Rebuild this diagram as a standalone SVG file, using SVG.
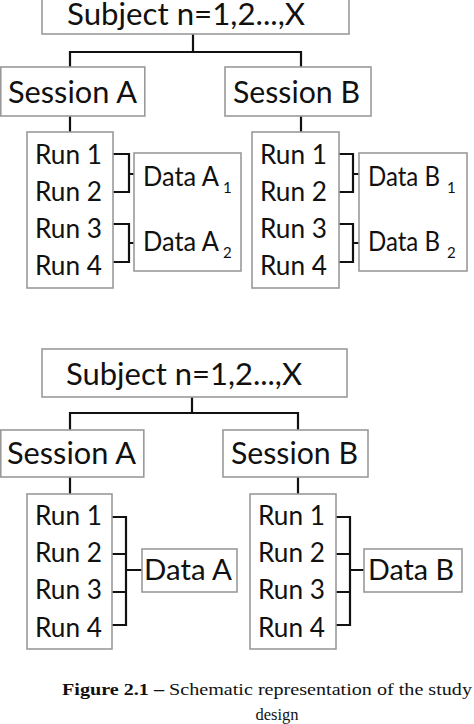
<svg xmlns="http://www.w3.org/2000/svg" width="474" height="724" viewBox="0 0 474 724">
<style>
.box{fill:#fff;stroke:#9a9a9a;stroke-width:1.6}
.t{font-family:Lato,"Open Sans","Liberation Sans",sans-serif;fill:#111}
.ln{fill:none;stroke:#111;stroke-width:2.2;stroke-linejoin:miter}
.cap{font-family:"Liberation Serif","Times New Roman",serif;font-size:16.5px;fill:#111}
</style>
<rect width="474" height="724" fill="#fff"/>
<g id="connectors">
<path class="ln" d="M193 34V52M70 67V52H301V67M70 116V132M301 116V132"/>
<path class="ln" d="M108 154H129V192H108M129 174H140M108 224H129V262H108M129 243H140"/>
<path class="ln" d="M333 154H353V192H333M353 174H364M333 224H353V262H333M353 243H364"/>
<path class="ln" d="M192 397V413M70 430V413H298V430M70 477V494M298 477V494"/>
<path class="ln" d="M107 517H126V625H107M107 554H126M107 592H126M126 570H142"/>
<path class="ln" d="M329 517H350V625H329M329 554H350M329 592H350M350 570H364"/>
</g>
<g id="subject1"><rect class="box" x="42" y="-12" width="307" height="46"/><text class="t" x="67" y="25" font-size="30" textLength="238" lengthAdjust="spacingAndGlyphs">Subject n=1,2...,X</text></g>
<g id="sessionA1"><rect class="box" x="0.8" y="67" width="144" height="49"/><text class="t" x="8" y="103" font-size="30" textLength="129" lengthAdjust="spacingAndGlyphs">Session A</text></g>
<g id="sessionB1"><rect class="box" x="225" y="67" width="146" height="49"/><text class="t" x="233" y="103" font-size="30" textLength="127" lengthAdjust="spacingAndGlyphs">Session B</text></g>
<g id="runsA1"><rect class="box" x="27" y="132" width="86" height="156"/>
<g class="t" font-size="26"><text x="35" y="164" textLength="67" lengthAdjust="spacingAndGlyphs">Run 1</text><text x="35" y="201" textLength="67" lengthAdjust="spacingAndGlyphs">Run 2</text><text x="35" y="238" textLength="67" lengthAdjust="spacingAndGlyphs">Run 3</text><text x="35" y="275" textLength="67" lengthAdjust="spacingAndGlyphs">Run 4</text></g></g>
<g id="runsB1"><rect class="box" x="252" y="132" width="87" height="156"/>
<g class="t" font-size="26"><text x="260" y="164" textLength="67" lengthAdjust="spacingAndGlyphs">Run 1</text><text x="260" y="201" textLength="67" lengthAdjust="spacingAndGlyphs">Run 2</text><text x="260" y="238" textLength="67" lengthAdjust="spacingAndGlyphs">Run 3</text><text x="260" y="275" textLength="67" lengthAdjust="spacingAndGlyphs">Run 4</text></g></g>
<g id="dataA1"><rect class="box" x="134" y="153" width="107" height="118"/>
<text class="t" x="143" y="186" font-size="26" textLength="76" lengthAdjust="spacingAndGlyphs">Data A</text><text class="t" x="223" y="193" font-size="15">1</text>
<text class="t" x="143" y="251" font-size="26" textLength="76" lengthAdjust="spacingAndGlyphs">Data A</text><text class="t" x="223" y="258" font-size="15">2</text></g>
<g id="dataB1"><rect class="box" x="359" y="153" width="108" height="118"/>
<text class="t" x="368" y="186" font-size="26" textLength="72" lengthAdjust="spacingAndGlyphs">Data B</text><text class="t" x="447" y="193" font-size="15">1</text>
<text class="t" x="368" y="251" font-size="26" textLength="72" lengthAdjust="spacingAndGlyphs">Data B</text><text class="t" x="447" y="258" font-size="15">2</text></g>
<g id="subject2"><rect class="box" x="42" y="349" width="305" height="48"/><text class="t" x="66" y="385" font-size="30" textLength="236" lengthAdjust="spacingAndGlyphs">Subject n=1,2...,X</text></g>
<g id="sessionA2"><rect class="box" x="0.8" y="430" width="143" height="47"/><text class="t" x="7" y="464" font-size="30" textLength="129" lengthAdjust="spacingAndGlyphs">Session A</text></g>
<g id="sessionB2"><rect class="box" x="223" y="430" width="145" height="47"/><text class="t" x="231" y="464" font-size="30" textLength="127" lengthAdjust="spacingAndGlyphs">Session B</text></g>
<g id="runsA2"><rect class="box" x="27" y="494" width="85" height="155"/>
<g class="t" font-size="26"><text x="35" y="525" textLength="67" lengthAdjust="spacingAndGlyphs">Run 1</text><text x="35" y="562" textLength="67" lengthAdjust="spacingAndGlyphs">Run 2</text><text x="35" y="599" textLength="67" lengthAdjust="spacingAndGlyphs">Run 3</text><text x="35" y="637" textLength="67" lengthAdjust="spacingAndGlyphs">Run 4</text></g></g>
<g id="runsB2"><rect class="box" x="250" y="494" width="86" height="155"/>
<g class="t" font-size="26"><text x="258" y="525" textLength="67" lengthAdjust="spacingAndGlyphs">Run 1</text><text x="258" y="562" textLength="67" lengthAdjust="spacingAndGlyphs">Run 2</text><text x="258" y="599" textLength="67" lengthAdjust="spacingAndGlyphs">Run 3</text><text x="258" y="637" textLength="67" lengthAdjust="spacingAndGlyphs">Run 4</text></g></g>
<g id="dataA2"><rect class="box" x="142" y="549" width="95" height="43"/><text class="t" x="144" y="580" font-size="28" textLength="88" lengthAdjust="spacingAndGlyphs">Data A</text></g>
<g id="dataB2"><rect class="box" x="364" y="549" width="98" height="43"/><text class="t" x="368" y="580" font-size="28" textLength="86" lengthAdjust="spacingAndGlyphs">Data B</text></g>
<g id="caption">
<text class="cap" x="62" y="695" textLength="410" lengthAdjust="spacingAndGlyphs"><tspan font-weight="bold">Figure 2.1 –</tspan> Schematic representation of the study</text>
<text class="cap" x="277" y="720" text-anchor="middle">design</text>
</g>
</svg>
